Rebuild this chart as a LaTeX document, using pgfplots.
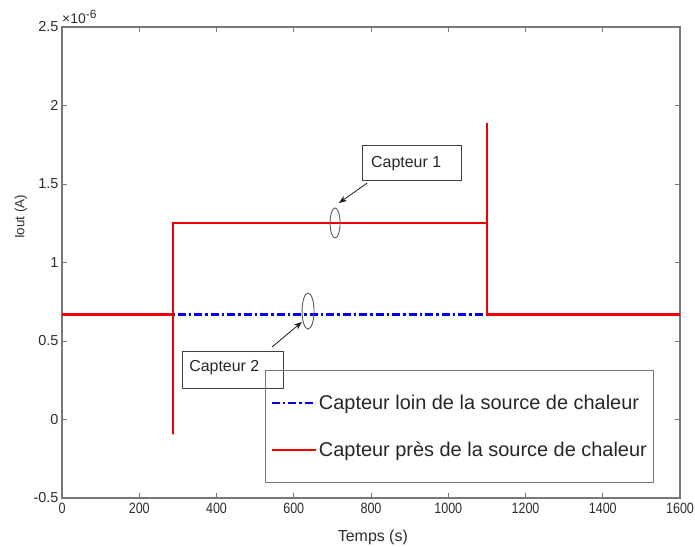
\documentclass[border=0pt]{standalone}
\usepackage{pgfplots}
\pgfplotsset{compat=1.18}
\usetikzlibrary{arrows.meta}
\usepackage{fontspec}
\setmainfont{Liberation Sans}
\newfontfamily\xtickfont[FakeStretch=0.84]{Liberation Sans}
\definecolor{axgray}{RGB}{120,120,120}
\definecolor{txtgray}{RGB}{45,45,45}
\definecolor{myred}{RGB}{240,0,0}
\definecolor{myblue}{RGB}{0,0,235}
\begin{document}
\begin{tikzpicture}
\begin{axis}[
  width=618bp, height=471bp, scale only axis,
  xmin=0, xmax=1600, ymin=-0.5, ymax=2.5,
  xtick={0,200,400,600,800,1000,1200,1400,1600},
  xticklabels={0,200,400,600,800,1000,1200,1400,1600},
  ytick={-0.5,0,0.5,1,1.5,2,2.5},
  yticklabels={-0.5,0,0.5,1,1.5,2,2.5},
  tick align=inside, major tick length=5bp,
  axis line style={axgray, line width=1.1bp},
  every tick/.style={axgray, line width=0.8bp},
  xticklabel style={font=\xtickfont\fontsize{15}{17}\selectfont, text=txtgray, yshift=-2bp},
  yticklabel style={font=\fontsize{14.5}{17}\selectfont, text=txtgray},
  xlabel={Temps (s)}, ylabel={Iout (A)},
  xlabel style={at={(axis description cs:0.503,0)}, anchor=base, yshift=-43bp,
    font=\fontsize{16}{19}\selectfont, text=txtgray},
  ylabel style={at={(axis description cs:0,0.597)}, anchor=center, yshift=41bp,
    font=\fontsize{13.5}{16}\selectfont, text=txtgray},
  legend style={at={(axis description cs:0.3285,0.2718)}, anchor=north west,
    draw=axgray, line width=0.9bp, fill=none,
    font=\fontsize{20}{24}\selectfont, text=black!85,
    inner xsep=5bp, inner ysep=22.5bp, row sep=27bp},
  legend cell align=left,
  legend image code/.code={\draw[#1] (0bp,0bp) -- (44bp,0bp);},
  clip=false,
]
\addplot[myblue, line width=2.4bp, dash pattern=on 8bp off 3bp on 2.5bp off 3bp]
  coordinates {(0,0.67) (1600,0.67)};
\addlegendentry{Capteur loin de la source de chaleur}
\addplot[myred, line width=2.5bp]
  coordinates {(0,0.67) (287,0.67) (287,-0.095) (287,1.25) (1100,1.25) (1100,1.89) (1100,0.67) (1600,0.67)};
\addlegendentry{Capteur près de la source de chaleur}
% annotations
\draw[black!75, line width=0.8bp] (axis cs:779,1.748) rectangle (axis cs:1033,1.526);
\node[anchor=base west, inner sep=0, font=\fontsize{16}{19}\selectfont, text=black!85] at (axis cs:800,1.608) {Capteur 1};
\draw[black!75, line width=0.8bp] (axis cs:311,0.436) rectangle (axis cs:572,0.201);
\node[anchor=base west, inner sep=0, font=\fontsize{16}{19}\selectfont, text=black!85] at (axis cs:329,0.303) {Capteur 2};
\draw[black!90, line width=0.8bp, -{Stealth[length=8bp,width=6bp]}] (axis cs:790,1.506) -- (axis cs:717,1.379);
\draw[black!90, line width=0.8bp, -{Stealth[length=8bp,width=6bp]}] (axis cs:544,0.462) -- (axis cs:621,0.621);
\draw[black!65, line width=0.9bp] (axis cs:707,1.252) ellipse [x radius=5bp, y radius=15bp];
\draw[black!65, line width=0.9bp] (axis cs:637,0.691) ellipse [x radius=6bp, y radius=18bp];
\node[anchor=base west, inner sep=0, font=\fontsize{14}{16}\selectfont, text=txtgray] at ([yshift=3bp]rel axis cs:0,1) {×10\textsuperscript{\fontsize{12}{14}\selectfont -6}};
\end{axis}
\pgfresetboundingbox
\path[use as bounding box] ([shift={(-62bp,-49bp)}]current axis.south west) rectangle ([shift={(15bp,27bp)}]current axis.north east);
\end{tikzpicture}
\end{document}
